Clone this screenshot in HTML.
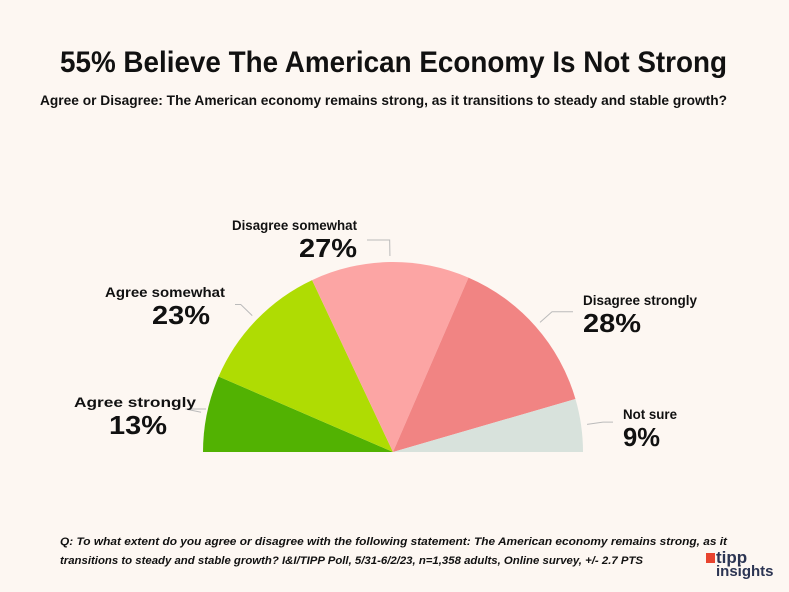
<!DOCTYPE html>
<html><head><meta charset="utf-8"><style>
html,body{margin:0;padding:0;background:#fdf7f2;}
svg{display:block;font-family:"Liberation Sans",sans-serif;}
</style></head><body>
<svg width="789" height="592" viewBox="0 0 789 592">
<rect width="789" height="592" fill="#fdf7f2"/>
<text x="60" y="72" font-size="30" font-weight="bold" fill="#111" textLength="667" lengthAdjust="spacingAndGlyphs">55% Believe The American Economy Is Not Strong</text>
<text x="40" y="105" font-size="13.5" font-weight="bold" fill="#111" textLength="687" lengthAdjust="spacingAndGlyphs">Agree or Disagree: The American economy remains strong, as it transitions to steady and stable growth?</text>
<g id="pie"></g>
<g id="labels"></g>
<text x="60" y="545" font-size="11" font-weight="bold" font-style="italic" fill="#111" textLength="667" lengthAdjust="spacingAndGlyphs">Q:  To what extent do you agree or disagree with the following statement: The American economy remains strong, as it</text>
<text x="60" y="564" font-size="11" font-weight="bold" font-style="italic" fill="#111" textLength="583" lengthAdjust="spacingAndGlyphs">transitions to steady and stable growth? I&amp;I/TIPP Poll, 5/31-6/2/23, n=1,358 adults, Online survey, +/- 2.7 PTS</text>
<g>
<rect x="706" y="553" width="9" height="10" fill="#e8442f"/>
<text x="716" y="563" font-size="17" font-weight="bold" fill="#2c3553">tipp</text>
<text x="716" y="576" font-size="15" font-weight="bold" fill="#2c3553">insights</text>
</g>
</svg>
<script>
const categories=["Agree strongly","Agree somewhat","Disagree somewhat","Disagree strongly","Not sure"];
const values=[13,23,27,28,9];
const colors=["#52b202","#afdc03","#fca5a4","#f18483","#d8e2dc"];
const labelPos=[[196,402,"end",122,167],[225,292,"end",120,210],[357,225,"end",125,357],[583,300,"start",114,583],[623,414,"start",54,623]];
const cx=393,cy=452,r=190;
const ns="http://www.w3.org/2000/svg";
const pie=document.getElementById('pie'),lab=document.getElementById('labels');
const total=values.reduce((a,b)=>a+b,0);
function pt(a,rr){return [cx+rr*Math.cos(a),cy-rr*Math.sin(a)];}
let acc=0;
values.forEach((v,i)=>{
  const a0=Math.PI*(1-acc/total),a1=Math.PI*(1-(acc+v)/total);acc+=v;
  const p0=pt(a0,r),p1=pt(a1,r);
  const p=document.createElementNS(ns,'path');
  p.setAttribute('d',`M${cx},${cy}L${p0[0]},${p0[1]}A${r},${r} 0 0 1 ${p1[0]},${p1[1]}Z`);
  p.setAttribute('fill',colors[i]);
  
  
  pie.appendChild(p);
  const am=(a0+a1)/2,e1=pt(am,r+6),e2=pt(am,r+22);
  const lp=labelPos[i];
  const hx=lp[2]==="end"?lp[0]+10:lp[0]-10;
  const l=document.createElementNS(ns,'polyline');
  l.setAttribute('points',`${e1[0]},${e1[1]} ${e2[0]},${e2[1]} ${hx},${e2[1]}`);
  l.setAttribute('fill','none');l.setAttribute('stroke','#bbb');l.setAttribute('stroke-width','1');
  
  
  lab.appendChild(l);
  const t=document.createElementNS(ns,'text');
  t.setAttribute('x',lp[0]);t.setAttribute('y',lp[1]+5);t.setAttribute('text-anchor',lp[2]);
  t.setAttribute('font-size','14');t.setAttribute('font-weight','bold');t.setAttribute('fill','#111');
  t.setAttribute('textLength',lp[3]);t.setAttribute('lengthAdjust','spacingAndGlyphs');
  t.textContent=categories[i];
  
  
  lab.appendChild(t);
  const t2=document.createElementNS(ns,'text');
  t2.setAttribute('x',lp[4]);t2.setAttribute('y',lp[1]+32);t2.setAttribute('text-anchor',lp[2]);
  t2.setAttribute('font-size','26');t2.setAttribute('font-weight','bold');t2.setAttribute('fill','#111');
  const s=v+'%';
  t2.setAttribute('textLength',s.length===3?58:37);t2.setAttribute('lengthAdjust','spacingAndGlyphs');
  t2.textContent=s;
  
  
  lab.appendChild(t2);
});
</script>
</body></html>
